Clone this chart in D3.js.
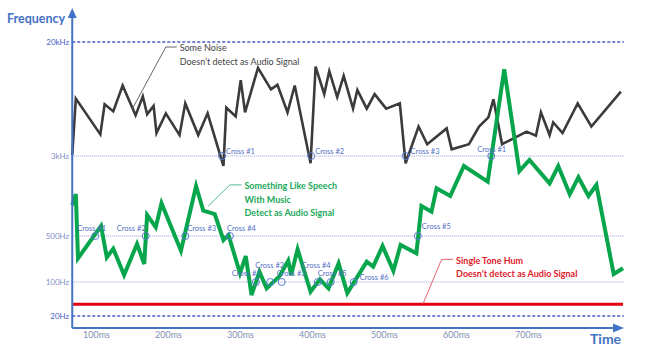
<!DOCTYPE html>
<html lang="en">
<head>
<meta charset="UTF-8">
<title>Audio Signal Detection</title>
<script src="https://d3js.org/d3.v7.min.js"></script>
<style>
  body { margin: 0; background: #fff; }
  svg { display: block; font-family: Lato, "Open Sans", sans-serif; }
  .tick text { font-family: Lato, "Open Sans", sans-serif; }
  .cross { fill: none; stroke: #5b7bd0; stroke-width: 1; }
  .cross-label { font-size: 7.5px; fill: #5470c6; }
</style>
</head>
<body>
<div id="chart"></div>
<script>
// axes
const freqTicks = [20, 100, 500, 3000, 20000];
const freqLabels = ["20Hz", "100Hz", "500Hz", "3kHz", "20kHz"];
const timeTicks = [100, 200, 300, 400, 500, 600, 700];
const timeLabels = ["100ms", "200ms", "300ms", "400ms", "500ms", "600ms", "700ms"];
const tStart = 67, tEnd = 833;

// "some noise" (black)
const noiseT = [67, 72, 106, 112, 124, 137, 155, 165, 171, 180, 184, 197, 216, 224, 242, 255, 277, 281, 294, 301,
  307, 325, 343, 352, 366, 376, 398, 405, 417, 424, 435, 444, 457, 463, 476, 487, 503, 522, 530, 548,
  560, 587, 594, 618, 632, 645, 652, 664, 698, 711, 718, 730, 735, 748, 769, 788, 829];
const noiseHz = [3050, 7800, 4300, 7100, 6300, 9700, 5900, 8100, 6000, 6900, 4400, 6100, 4250, 7200, 4250, 6100, 2400, 6700, 5800, 10600,
  6200, 13000, 9100, 9800, 6200, 9700, 2550, 13300, 8400, 12300, 8000, 11400, 6600, 9000, 6600, 8400, 6600, 7200, 2550, 4900,
  3650, 4750, 3350, 3650, 4900, 5700, 7700, 3650, 4500, 4200, 6200, 4250, 5250, 4400, 7200, 4900, 8750];

// speech + music (green)
const speechT = [67, 72, 75, 107, 115, 124, 139, 157, 167, 171, 183, 191, 218, 239, 249, 265, 277, 284, 300, 308,
  316, 327, 337, 355, 367, 371, 380, 398, 411, 423, 437, 449, 476, 485, 498, 513, 523, 545, 552, 566,
  573, 592, 611, 644, 667, 688, 702, 730, 742, 758, 770, 784, 795, 819, 832];
const speechHz = [1000, 1280, 229, 626, 237, 321, 128, 378, 188, 800, 608, 1040, 299, 1532, 881, 818, 435, 511, 136, 248,
  54, 143, 74, 123, 211, 128, 314, 63, 110, 74, 192, 59, 203, 171, 352, 148, 365, 273, 979, 861,
  1455, 1224, 2397, 1687, 12700, 2143, 2742, 1627, 2397, 1272, 1862, 1224, 1567, 132, 162];

// single tone hum (red)
const humT = [67, 832];
const humHz = [35, 35];

// threshold crossings
const highCrossT = [275, 399, 530, 649];
const highCrossLabels = ["Cross #1", "Cross #2", "Cross #3", "Cross #1"];
const midCrossT = [99, 169, 224, 286, 547];
const midCrossLabels = ["Cross #1", "Cross #2", "Cross #3", "Cross #4", "Cross #5"];
const lowCrossT = [322, 342, 358, 408, 426, 458];
const lowCrossLabels = ["Cross #1", "Cross #2", "Cross #3", "Cross #4", "Cross #5", "Cross #6"];

// label offsets from each circle (layout only)
const highCrossOffsets = [[4, -4], [4, -4], [5, -4], [-14, -6]];
const midCrossOffsets = [[-18, -7], [-29, -7], [2, -7], [-3, -7], [4, -9]];
const lowCrossOffsets = [[-24, -8], [-15, -16], [-5, -8], [-16, -16], [-13, -8], [6, -4]];

const noiseNote = ["Some Noise", "Doesn\u2019t detect as Audio Signal"];
const speechNote = ["Something Like Speech", "With Music", "Detect as Audio Signal"];
const humNote = ["Single Tone Hum", "Doesn\u2019t detect as Audio Signal"];

const width = 648, height = 360;
const axisColor = "#4472c4";

const x = d3.scaleLinear().domain([0, 700]).range([24, 528]);
const y = d3.scaleLog().domain(freqTicks).range([316, 282, 236, 156, 42]);
const x0 = x(tStart), x1 = x(tEnd), baseY = 328;

const svg = d3.select("#chart").append("svg")
  .attr("width", width)
  .attr("height", height);

// grid lines
svg.selectAll(".grid")
  .data(freqTicks)
  .enter().append("line")
  .attr("x1", x0).attr("x2", x1)
  .attr("y1", d => y(d)).attr("y2", d => y(d))
  .attr("stroke", (d, i) => (i === 0 || i === freqTicks.length - 1) ? "#4a5cc4" : "#95a3d6")
  .attr("stroke-width", (d, i) => (i === 0 || i === freqTicks.length - 1) ? 1.6 : 1.1)
  .attr("stroke-dasharray", (d, i) => (i === 0 || i === freqTicks.length - 1) ? "3,2" : "1,1");

const line = d3.line().x(d => x(d[0])).y(d => y(d[1]));

svg.append("path")
  .datum(d3.zip(humT, humHz))
  .attr("fill", "none").attr("stroke", "#e60012").attr("stroke-width", 3)
  .attr("d", line);

svg.append("path")
  .datum(d3.zip(noiseT, noiseHz))
  .attr("fill", "none").attr("stroke", "#3b3b3b").attr("stroke-width", 2.6)
  .attr("stroke-linejoin", "miter")
  .attr("d", line);

svg.append("path")
  .datum(d3.zip(speechT, speechHz))
  .attr("fill", "none").attr("stroke", "#08a64c").attr("stroke-width", 4)
  .attr("stroke-linejoin", "miter")
  .attr("d", line);

// crossings
function crosses(ts, level, labels, offsets) {
  const g = svg.append("g");
  g.selectAll("circle").data(ts).enter().append("circle")
    .attr("class", "cross")
    .attr("cx", d => x(d)).attr("cy", y(level)).attr("r", 3.5);
  g.selectAll("text").data(ts).enter().append("text")
    .attr("class", "cross-label")
    .attr("x", (d, i) => x(d) + offsets[i][0])
    .attr("y", (d, i) => y(level) + offsets[i][1])
    .attr("dominant-baseline", "middle")
    .text((d, i) => labels[i]);
}
crosses(highCrossT, 3000, highCrossLabels, highCrossOffsets);
crosses(midCrossT, 500, midCrossLabels, midCrossOffsets);
crosses(lowCrossT, 100, lowCrossLabels, lowCrossOffsets);

// axes
const xAxis = svg.append("g")
  .attr("transform", `translate(0,${baseY})`)
  .call(d3.axisBottom(x).tickValues(timeTicks).tickFormat((d, i) => timeLabels[i]).tickSize(0).tickPadding(4));
xAxis.select(".domain").remove();
xAxis.selectAll("text").attr("font-size", 9).attr("fill", "#8090b8");

const yAxis = svg.append("g")
  .attr("transform", `translate(${x0 - 1},0)`)
  .call(d3.axisLeft(y).tickValues(freqTicks).tickFormat((d, i) => freqLabels[i]).tickSize(0).tickPadding(2));
yAxis.select(".domain").remove();
yAxis.selectAll("text").attr("font-size", 8)
  .attr("fill", (d, i) => (i === 0 || i === freqTicks.length - 1) ? "#4a5cc4" : "#7f8fc4");

svg.append("line")
  .attr("x1", x0).attr("x2", x0).attr("y1", 16).attr("y2", baseY)
  .attr("stroke", axisColor).attr("stroke-width", 2);
svg.append("line")
  .attr("x1", x0).attr("x2", 615).attr("y1", baseY).attr("y2", baseY)
  .attr("stroke", axisColor).attr("stroke-width", 2);
svg.append("path")
  .attr("d", `M${x0 - 4.5},18 L${x0},8 L${x0 + 4.5},18 Z`)
  .attr("fill", axisColor);
svg.append("path")
  .attr("d", `M613,${baseY - 4.5} L624,${baseY} L613,${baseY + 4.5} Z`)
  .attr("fill", axisColor);

svg.append("text").attr("x", 7).attr("y", 23)
  .attr("font-size", 12.5).attr("font-weight", "bold").attr("fill", axisColor)
  .text("Frequency");
svg.append("text").attr("x", 590).attr("y", 344)
  .attr("font-size", 14).attr("font-weight", "bold").attr("fill", axisColor)
  .text("Time");

// annotations with leader lines (anchored in data coordinates)
function note(pts, lines, color, leaderColor, bold) {
  const p = pts.map(d => [x(d[0]), y(d[1])]);
  svg.append("path")
    .attr("d", d3.line()(p))
    .attr("fill", "none").attr("stroke", leaderColor).attr("stroke-width", 0.9);
  const end = p[p.length - 1];
  svg.append("g").selectAll("text").data(lines).enter().append("text")
    .attr("x", end[0] + 3)
    .attr("y", (d, i) => end[1] + 2 + i * 13.4)
    .attr("dominant-baseline", "middle")
    .attr("font-size", 9)
    .attr("font-weight", bold ? "bold" : "normal")
    .attr("fill", color)
    .text(d => d);
}
note([[151, 6660], [197, 18400], [212, 18400]], noiseNote, "#444", "#555", false);
note([[256, 979], [286, 1570], [302, 1570]], speechNote, "#1aa85a", "#3cb08a", true);
note([[554, 35], [580, 221], [596, 221]], humNote, "#e0202a", "#e05060", true);
</script>
</body>
</html>
